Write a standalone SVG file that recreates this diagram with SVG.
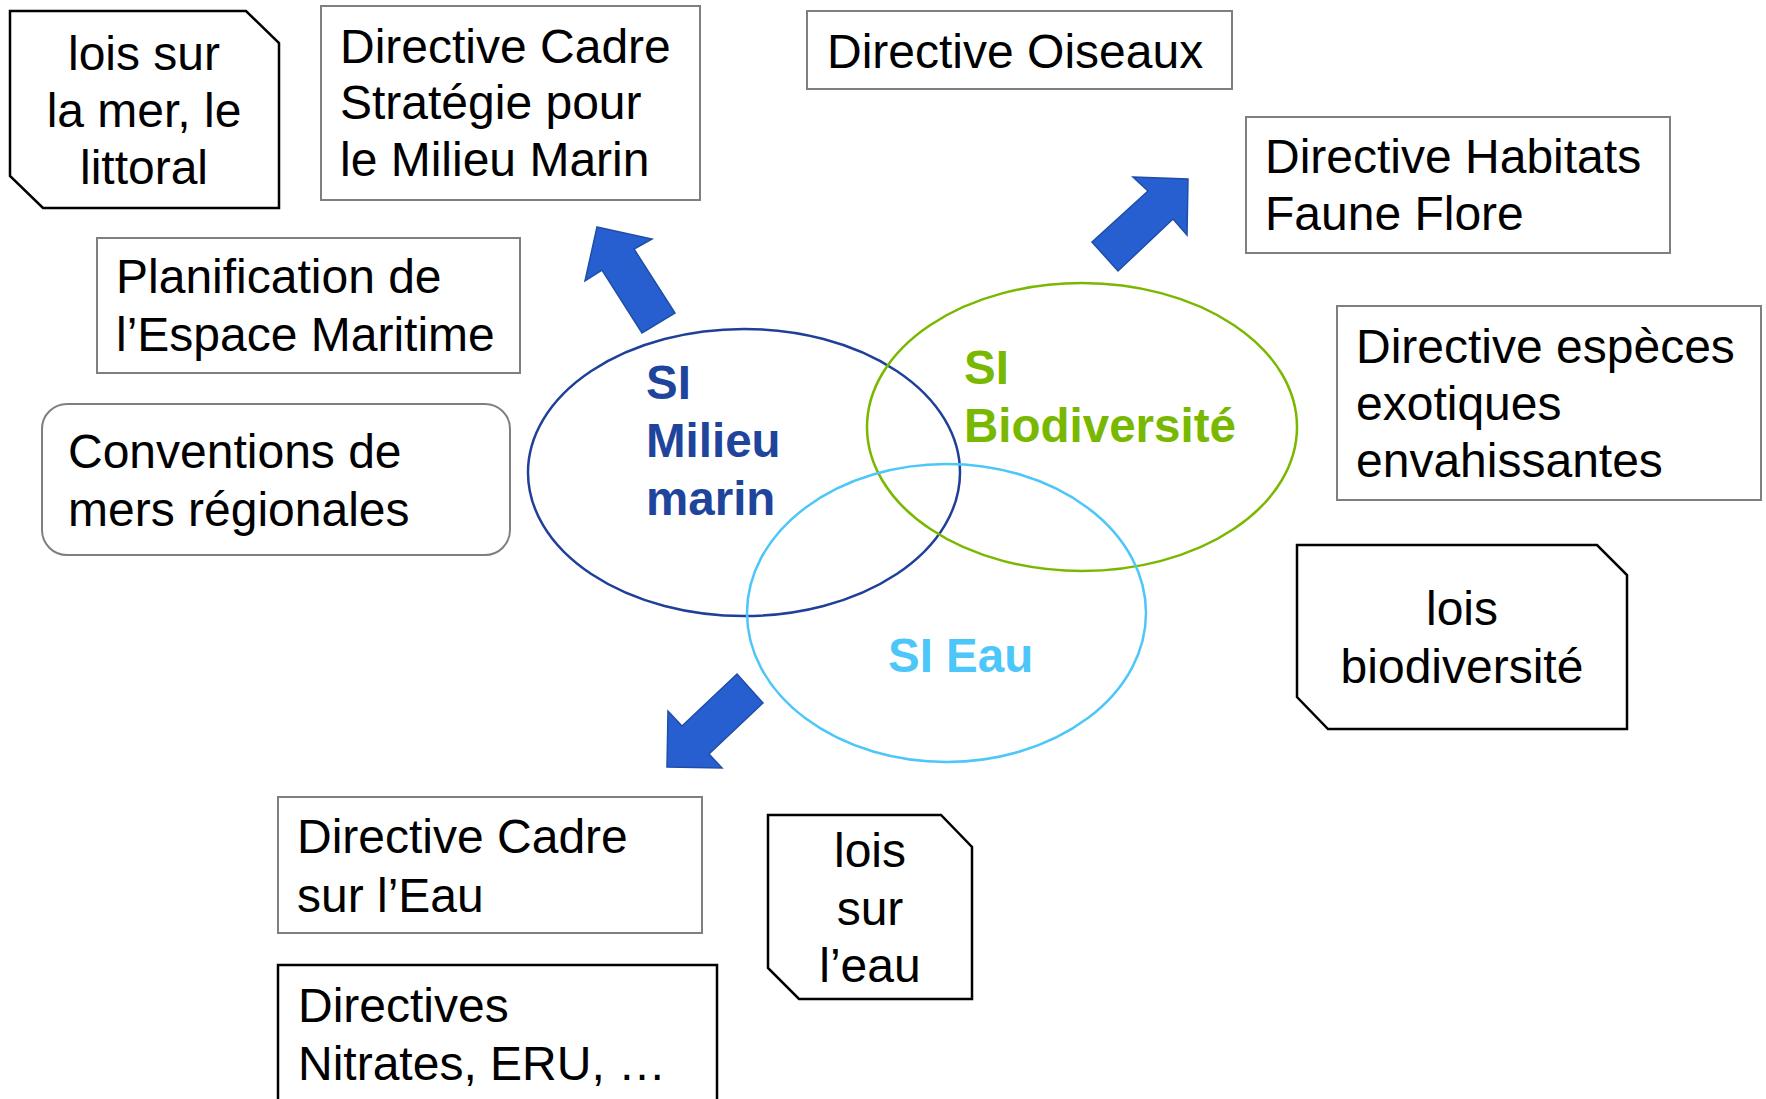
<svg xmlns="http://www.w3.org/2000/svg" width="1766" height="1099" viewBox="0 0 1766 1099">
<style>
  .t { font-family: "Liberation Sans", Arial, sans-serif; font-size: 48px; fill: #000; }
  .c { text-anchor: middle; }
  .b { font-family: "Liberation Sans", Arial, sans-serif; font-size: 47.5px; font-weight: bold; }
  .box { fill: #fff; stroke: #7f7f7f; stroke-width: 2; }
  .blk { fill: #fff; stroke: #000; stroke-width: 2.5; }
  .arrow { fill: #275fd0; stroke: #1f4ea6; stroke-width: 1.5; stroke-linejoin: miter; }
  .ell { fill: none; stroke-width: 2.5; }
</style>
<rect width="1766" height="1099" fill="#fff"/>

<g id="lois-mer">
  <polygon class="blk" points="10,11 246,11 279,43 279,208 43,208 10,176"/>
  <text class="t c" x="144" y="70">lois sur</text>
  <text class="t c" x="144" y="127">la mer, le</text>
  <text class="t c" x="144" y="184">littoral</text>
</g>

<g id="dcsmm">
  <rect class="box" x="321" y="6" width="379" height="194"/>
  <text class="t" x="340" y="63">Directive Cadre</text>
  <text class="t" x="340" y="119">Stratégie pour</text>
  <text class="t" x="340" y="176">le Milieu Marin</text>
</g>

<g id="oiseaux">
  <rect class="box" x="807" y="11" width="425" height="78"/>
  <text class="t" x="827" y="68">Directive Oiseaux</text>
</g>

<g id="habitats">
  <rect class="box" x="1246" y="117" width="424" height="136"/>
  <text class="t" x="1265" y="173">Directive Habitats</text>
  <text class="t" x="1265" y="230">Faune Flore</text>
</g>

<g id="planification">
  <rect class="box" x="97" y="238" width="423" height="135"/>
  <text class="t" x="116" y="293">Planification de</text>
  <text class="t" x="116" y="351">l’Espace Maritime</text>
</g>

<g id="conventions">
  <rect class="box" x="42" y="404" width="468" height="151" rx="25" ry="25"/>
  <text class="t" x="68" y="468">Conventions de</text>
  <text class="t" x="68" y="526">mers régionales</text>
</g>

<g id="especes">
  <rect class="box" x="1337" y="306" width="424" height="194"/>
  <text class="t" x="1356" y="363">Directive espèces</text>
  <text class="t" x="1356" y="420">exotiques</text>
  <text class="t" x="1356" y="477">envahissantes</text>
</g>

<g id="lois-biodiversite">
  <polygon class="blk" points="1297,545 1597,545 1627,575 1627,729 1328,729 1297,697"/>
  <text class="t c" x="1462" y="625">lois</text>
  <text class="t c" x="1462" y="683">biodiversité</text>
</g>

<g id="dce">
  <rect class="box" x="278" y="797" width="424" height="136"/>
  <text class="t" x="297" y="853">Directive Cadre</text>
  <text class="t" x="297" y="912">sur l’Eau</text>
</g>

<g id="nitrates">
  <rect class="blk" x="278" y="965" width="439" height="150"/>
  <text class="t" x="298" y="1022">Directives</text>
  <text class="t" x="298" y="1080">Nitrates, ERU, …</text>
</g>

<g id="lois-eau">
  <polygon class="blk" points="768,815 941,815 972,847 972,999 799,999 768,968"/>
  <text class="t c" x="870" y="867">lois</text>
  <text class="t c" x="870" y="925">sur</text>
  <text class="t c" x="870" y="982">l’eau</text>
</g>

<g id="si-milieu-marin">
  <ellipse class="ell" cx="744" cy="472.5" rx="216" ry="143.5" stroke="#1f3f99"/>
  <text class="b" x="646" y="399" fill="#1f449c">SI</text>
  <text class="b" x="646" y="457" fill="#1f449c">Milieu</text>
  <text class="b" x="646" y="515" fill="#1f449c">marin</text>
</g>

<g id="si-biodiversite">
  <ellipse class="ell" cx="1082" cy="427" rx="215" ry="144" stroke="#7ab800"/>
  <text class="b" x="964" y="384" fill="#78b800">SI</text>
  <text class="b" x="964" y="442" fill="#78b800">Biodiversité</text>
</g>

<g id="si-eau">
  <ellipse class="ell" cx="946.5" cy="613" rx="199.5" ry="149" stroke="#4dc6fa"/>
  <text class="b" x="888" y="672" fill="#4dc6fa">SI Eau</text>
</g>

<g id="connectors">
  <polygon class="arrow" points="597,227 652,239 634,249 675,313 642,333 602,270 585,281"/>
  <polygon class="arrow" points="1133,177 1188,179 1187,235 1173,219 1118,271 1092,242 1148,191"/>
  <polygon class="arrow" points="737,674 763,703 709,754 722,768 667,767 668,711 682,726"/>
</g>
</svg>
